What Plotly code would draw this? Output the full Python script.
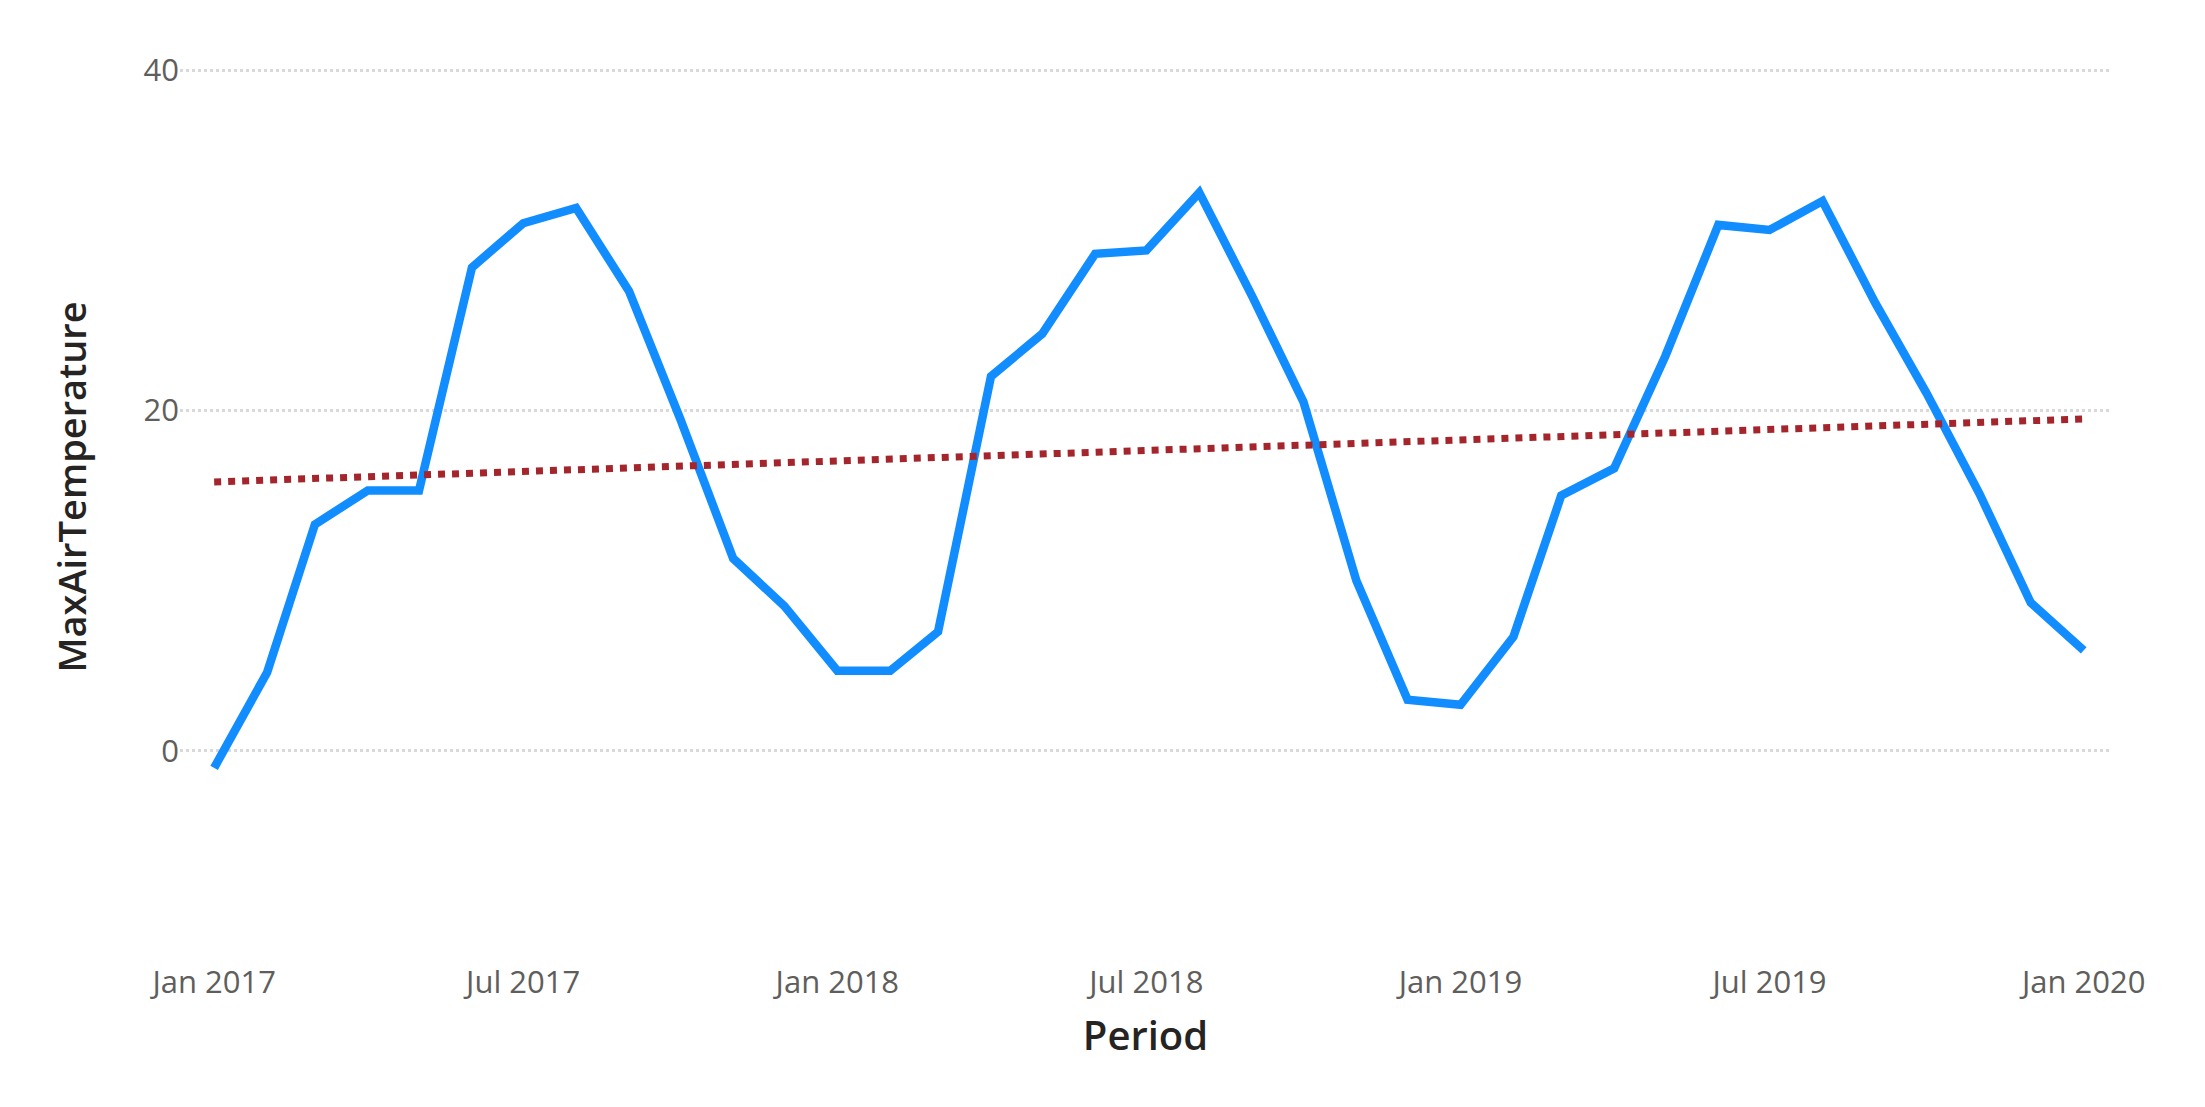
import plotly.graph_objects as go
import pandas as pd

periods = pd.date_range("2017-01-01", "2020-01-01", freq="MS")
max_air_temp = [-1.0, 4.6, 13.3, 15.3, 15.3, 28.4, 31.0, 31.9, 27.0, 19.5, 11.3, 8.5,
                4.7, 4.7, 7.0, 22.0, 24.5, 29.2, 29.4, 32.8, 26.7, 20.5, 10.0, 3.0,
                2.7, 6.7, 15.0, 16.6, 23.2, 30.9, 30.6, 32.3, 26.3, 21.0, 15.1, 8.7, 5.9]
trend_x = ["2017-01-01", "2020-01-01"]
trend_y = [15.8, 19.5]
tick_vals = ["2017-01-01", "2017-07-01", "2018-01-01", "2018-07-01", "2019-01-01", "2019-07-01", "2020-01-01"]
tick_text = ["Jan 2017", "Jul 2017", "Jan 2018", "Jan 2018", "Jan 2019", "Jul 2019", "Jan 2020"]
tick_text[3] = "Jul 2018"

fig = go.Figure()
fig.add_trace(go.Scatter(x=periods, y=max_air_temp, mode="lines",
                         line=dict(color="#118DFF", width=8.5), showlegend=False))
fig.add_trace(go.Scatter(x=trend_x, y=trend_y, mode="lines",
                         line=dict(color="#A4262C", width=7, dash="dot"), showlegend=False))
fig.update_layout(
    width=2205, height=1107, plot_bgcolor="white", paper_bgcolor="white",
    margin=dict(l=172, r=102, t=45, b=194),
    font=dict(family="Open Sans", color="#605E5C"),
    xaxis=dict(range=["2016-12-12", "2020-01-17"], tickvals=tick_vals, ticktext=tick_text,
               showgrid=False, zeroline=False, showline=False, tickfont=dict(size=31, color="#605E5C"),
               ticks="", ticklabelstandoff=40,
               title=dict(text="Period", font=dict(size=40, color="#252423", weight=600), standoff=20)),
    yaxis=dict(range=[-10, 41], tickvals=[0, 20, 40], showgrid=True, gridcolor="#D9D9D9",
               griddash="dot", gridwidth=3, zeroline=False, showline=False, ticks="",
               tickfont=dict(size=31, color="#605E5C"),
               title=dict(text="MaxAirTemperature", font=dict(size=38, color="#252423", weight=600), standoff=45)),
)
fig.write_html("out.html")
